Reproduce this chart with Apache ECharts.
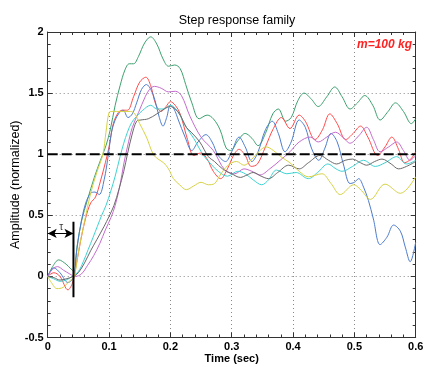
<!DOCTYPE html>
<html><head><meta charset="utf-8">
<script src="https://cdn.jsdelivr.net/npm/echarts/dist/echarts.min.js"></script>
<style>html,body{margin:0;padding:0;background:#fff}#c{width:425px;height:367px}</style>
</head><body><div id="c"></div>
<script>
// ---- data (time in sec, normalized amplitude) ----
const green = [[0,0],[0.008,0.08],[0.018,0.135],[0.03,0.10],[0.038,0.06],[0.043,0.04],[0.048,0.25],[0.055,0.45],[0.065,0.63],[0.076,0.81],[0.086,0.95],[0.095,1.07],[0.102,1.2],[0.11,1.40],[0.118,1.56],[0.126,1.69],[0.133,1.74],[0.14,1.74],[0.148,1.80],[0.158,1.91],[0.168,1.96],[0.178,1.90],[0.188,1.78],[0.197,1.72],[0.207,1.73],[0.216,1.70],[0.225,1.57],[0.235,1.42],[0.247,1.29],[0.26,1.32],[0.27,1.29],[0.281,1.20],[0.291,1.05],[0.298,1.03],[0.31,1.11],[0.322,1.17],[0.333,1.13],[0.343,1.07],[0.355,1.17],[0.367,1.33],[0.376,1.37],[0.388,1.27],[0.397,1.30],[0.408,1.44],[0.418,1.50],[0.43,1.45],[0.441,1.39],[0.455,1.47],[0.468,1.55],[0.48,1.47],[0.493,1.37],[0.505,1.42],[0.517,1.48],[0.53,1.40],[0.542,1.28],[0.555,1.35],[0.567,1.42],[0.58,1.35],[0.593,1.25],[0.6,1.29]];
const red = [[0,0],[0.01,0.03],[0.02,0.0],[0.033,-0.11],[0.04,-0.06],[0.045,0.05],[0.054,0.30],[0.062,0.48],[0.07,0.60],[0.078,0.65],[0.086,0.78],[0.094,0.93],[0.1,1.06],[0.107,1.25],[0.115,1.34],[0.122,1.36],[0.13,1.36],[0.14,1.47],[0.15,1.59],[0.16,1.63],[0.168,1.56],[0.176,1.41],[0.185,1.35],[0.193,1.39],[0.2,1.43],[0.208,1.40],[0.216,1.33],[0.228,1.12],[0.238,0.99],[0.25,1.01],[0.26,0.96],[0.27,0.86],[0.282,0.80],[0.293,0.88],[0.303,0.99],[0.312,1.04],[0.322,0.99],[0.332,0.90],[0.342,0.92],[0.355,1.06],[0.368,1.21],[0.381,1.30],[0.395,1.21],[0.41,1.32],[0.42,1.27],[0.436,1.12],[0.448,1.2],[0.46,1.33],[0.472,1.25],[0.486,1.12],[0.498,1.17],[0.51,1.23],[0.522,1.14],[0.538,0.99],[0.55,1.06],[0.561,1.14],[0.572,1.04],[0.582,0.93],[0.592,0.96],[0.6,1.02]];
const blue = [[0,0],[0.01,0.07],[0.02,0.03],[0.033,-0.05],[0.043,0.0],[0.046,0.16],[0.054,0.43],[0.062,0.60],[0.07,0.68],[0.077,0.69],[0.084,0.67],[0.092,0.79],[0.099,1.0],[0.104,1.18],[0.11,1.28],[0.117,1.34],[0.123,1.36],[0.131,1.30],[0.138,1.33],[0.145,1.42],[0.153,1.53],[0.161,1.57],[0.168,1.53],[0.175,1.44],[0.182,1.30],[0.188,1.23],[0.194,1.30],[0.2,1.40],[0.206,1.37],[0.213,1.28],[0.224,1.14],[0.235,1.03],[0.245,1.10],[0.258,1.16],[0.268,1.10],[0.278,0.99],[0.29,0.94],[0.3,1.02],[0.312,1.14],[0.322,1.06],[0.333,0.94],[0.343,1.02],[0.355,1.20],[0.366,1.27],[0.376,1.17],[0.387,1.02],[0.397,1.10],[0.41,1.28],[0.42,1.22],[0.43,1.05],[0.442,0.95],[0.452,1.05],[0.462,1.17],[0.472,1.10],[0.482,0.92],[0.493,0.76],[0.5,0.77],[0.507,0.80],[0.515,0.73],[0.523,0.62],[0.531,0.47],[0.542,0.26],[0.553,0.32],[0.564,0.42],[0.575,0.37],[0.583,0.24],[0.591,0.12],[0.6,0.28]];
const magenta = [[0,0],[0.008,0.06],[0.016,0.08],[0.026,0.05],[0.036,0.02],[0.045,0.0],[0.055,0.02],[0.065,0.09],[0.075,0.17],[0.085,0.27],[0.094,0.38],[0.103,0.48],[0.11,0.58],[0.118,0.75],[0.124,0.92],[0.13,1.06],[0.138,1.22],[0.148,1.34],[0.159,1.47],[0.166,1.53],[0.174,1.555],[0.185,1.54],[0.197,1.51],[0.208,1.515],[0.218,1.48],[0.232,1.31],[0.25,1.14],[0.27,1.03],[0.289,0.87],[0.305,0.84],[0.32,0.88],[0.333,0.86],[0.346,0.83],[0.362,0.88],[0.379,0.95],[0.395,1.02],[0.41,1.10],[0.428,1.14],[0.441,1.10],[0.455,1.14],[0.469,1.18],[0.481,1.14],[0.493,1.09],[0.507,1.15],[0.52,1.22],[0.531,1.12],[0.542,1.02],[0.556,1.06],[0.569,1.10],[0.58,1.03],[0.591,0.95],[0.6,0.99]];
const cyan = [[0,0],[0.01,-0.02],[0.02,-0.04],[0.03,-0.03],[0.04,0.0],[0.05,0.04],[0.058,0.12],[0.066,0.22],[0.074,0.32],[0.081,0.41],[0.088,0.50],[0.095,0.58],[0.103,0.70],[0.11,0.82],[0.118,0.98],[0.124,1.09],[0.13,1.18],[0.137,1.26],[0.145,1.31],[0.155,1.36],[0.168,1.40],[0.178,1.37],[0.188,1.37],[0.2,1.40],[0.212,1.35],[0.226,1.22],[0.238,1.13],[0.254,0.99],[0.266,0.92],[0.278,0.86],[0.293,0.82],[0.31,0.86],[0.322,0.84],[0.335,0.79],[0.349,0.75],[0.36,0.79],[0.373,0.87],[0.39,0.84],[0.405,0.85],[0.425,0.80],[0.44,0.85],[0.457,0.92],[0.47,0.88],[0.48,0.86],[0.497,0.90],[0.515,0.95],[0.534,0.90],[0.55,0.93],[0.569,0.98],[0.585,0.92],[0.6,0.95]];
const gray = [[0,0],[0.01,-0.01],[0.02,-0.03],[0.03,-0.02],[0.042,0.0],[0.05,0.03],[0.06,0.11],[0.07,0.21],[0.08,0.30],[0.092,0.41],[0.1,0.49],[0.108,0.58],[0.116,0.71],[0.124,0.86],[0.13,1.0],[0.137,1.15],[0.145,1.27],[0.152,1.28],[0.164,1.29],[0.178,1.33],[0.19,1.37],[0.2,1.39],[0.208,1.37],[0.216,1.32],[0.226,1.22],[0.234,1.18],[0.248,1.10],[0.262,0.98],[0.272,0.94],[0.285,0.88],[0.3,0.84],[0.314,0.81],[0.325,0.83],[0.335,0.85],[0.348,0.82],[0.36,0.80],[0.375,0.85],[0.393,0.91],[0.41,0.88],[0.425,0.93],[0.444,0.99],[0.458,0.95],[0.471,0.92],[0.485,0.95],[0.497,0.96],[0.51,0.93],[0.52,0.91],[0.533,0.94],[0.545,0.96],[0.56,0.92],[0.572,0.88],[0.585,0.90],[0.6,0.94]];
const yellow = [[0,0],[0.006,-0.05],[0.015,-0.10],[0.025,-0.09],[0.035,-0.04],[0.043,0.0],[0.05,0.2],[0.06,0.45],[0.07,0.68],[0.08,0.85],[0.09,1.0],[0.095,1.18],[0.1,1.34],[0.105,1.35],[0.12,1.35],[0.135,1.35],[0.142,1.33],[0.15,1.25],[0.161,1.14],[0.172,1.0],[0.18,0.96],[0.189,0.93],[0.197,0.88],[0.205,0.80],[0.215,0.75],[0.226,0.71],[0.238,0.74],[0.25,0.77],[0.262,0.75],[0.272,0.76],[0.28,0.82],[0.29,0.89],[0.3,0.93],[0.308,0.94],[0.32,0.91],[0.333,0.96],[0.344,1.02],[0.356,1.06],[0.368,1.03],[0.38,0.98],[0.395,0.93],[0.41,0.86],[0.425,0.815],[0.447,0.84],[0.462,0.76],[0.477,0.67],[0.499,0.75],[0.512,0.70],[0.526,0.63],[0.55,0.755],[0.575,0.68],[0.6,0.815]];
const reference = [[0,1],[0.6,1]];
const tau = 0.042;
const tauLine = [[tau,0.447],[tau,-0.17]];
const arrowLevel = 0.352;
const tauLabelPos = [[0.022,0.40]];
const xTickLabels = ['0','0.1','0.2','0.3','0.4','0.5','0.6'];
const yTickLabels = ['-0.5','0','0.5','1','1.5','2'];

const curves = [
  {name:'g', data:green,   color:'#3ca06e'},
  {name:'r', data:red,     color:'#ff4a4a'},
  {name:'b', data:blue,    color:'#4d7ccc'},
  {name:'m', data:magenta, color:'#c46ccc'},
  {name:'c', data:cyan,    color:'#3fd2d2'},
  {name:'k', data:gray,    color:'#6a6a6a'},
  {name:'y', data:yellow,  color:'#d6d244'}
];

const font = 'Liberation Sans, Arial, Helvetica, sans-serif';
const chart = echarts.init(document.getElementById('c'), null, {renderer:'canvas'});

function xAx(pos, labels){
  return {type:'value', min:0, max:0.6, interval:0.1, position:pos,
    axisLine:{show:true, onZero:false, lineStyle:{color:'#333', width:1}},
    axisTick:{show:true, inside:true, length:5, lineStyle:{color:'#333'}},
    minorTick:{show:true, splitNumber:5, length:3, lineStyle:{color:'#333'}},
    splitLine:{show:labels, lineStyle:{color:'#888', type:[1,3], width:1}},
    axisLabel:{show:labels, margin:4, color:'#000', fontFamily:font, fontSize:11, fontWeight:'bold',
      formatter:(v)=>xTickLabels[Math.round(v*10)]},
    name: labels ? 'Time (sec)' : '', nameLocation:'middle', nameGap:16, nameMoveOverlap:false,
    nameTextStyle:{color:'#000', fontFamily:font, fontSize:11, fontWeight:'bold', verticalAlign:'top'}};
}
function yAx(pos, labels){
  return {type:'value', min:-0.5, max:2, interval:0.5, position:pos,
    axisLine:{show:true, onZero:false, lineStyle:{color:'#333', width:1}},
    axisTick:{show:true, inside:true, length:5, lineStyle:{color:'#333'}},
    minorTick:{show:true, splitNumber:5, length:3, lineStyle:{color:'#333'}},
    splitLine:{show:labels, lineStyle:{color:'#888', type:[1,3], width:1}},
    axisLabel:{show:labels, margin:4, color:'#000', fontFamily:font, fontSize:11, fontWeight:'bold',
      formatter:(v)=>yTickLabels[Math.round((v+0.5)*2)]},
    name: labels ? 'Amplitude (normalized)' : '', nameLocation:'middle', nameGap:26, nameMoveOverlap:false,
    nameTextStyle:{color:'#000', fontFamily:font, fontSize:12.5}};
}

const series = curves.map(c => ({
  type:'line', name:c.name, data:c.data, xAxisIndex:0, yAxisIndex:0,
  smooth:0.35, showSymbol:false, symbol:'none', animation:false,
  lineStyle:{color:c.color, width:1}, z:2
}));
series.push({type:'line', data:reference, showSymbol:false, symbol:'none', animation:false,
  lineStyle:{color:'#000', width:2, type:[10,4]}, z:3});
series.push({type:'line', data:tauLine, showSymbol:false, symbol:'none', animation:false,
  lineStyle:{color:'#000', width:2}, z:4,
  markLine:{silent:true, animation:false, symbol:['arrow','arrow'], symbolSize:[7,9],
    label:{show:false}, lineStyle:{color:'#000', width:1, type:'solid'},
    data:[[{coord:[0,arrowLevel]},{coord:[tau,arrowLevel]}]]}});
series.push({type:'scatter', data:tauLabelPos, symbolSize:0, animation:false, z:5,
  label:{show:true, formatter:'τ', position:'inside', color:'#000', fontFamily:font, fontSize:10}});

chart.setOption({
  animation:false,
  backgroundColor:'#fff',
  title:{text:'Step response family', left:232, top:9, textAlign:'center',
    textStyle:{fontFamily:font, fontSize:12.5, fontWeight:'normal', color:'#000'}},
  grid:{left:47.7, right:9.3, top:32, bottom:29.5, containLabel:false, outerBoundsMode:'none'},
  xAxis:[xAx('bottom', true), xAx('top', false)],
  yAxis:[yAx('left', true), yAx('right', false)],
  graphic:[{type:'text', right:13, top:39, style:{text:'m=100 kg', fill:'#ff2222',
    font:'italic bold 12px ' + font}}],
  series:series
});
</script></body></html>
